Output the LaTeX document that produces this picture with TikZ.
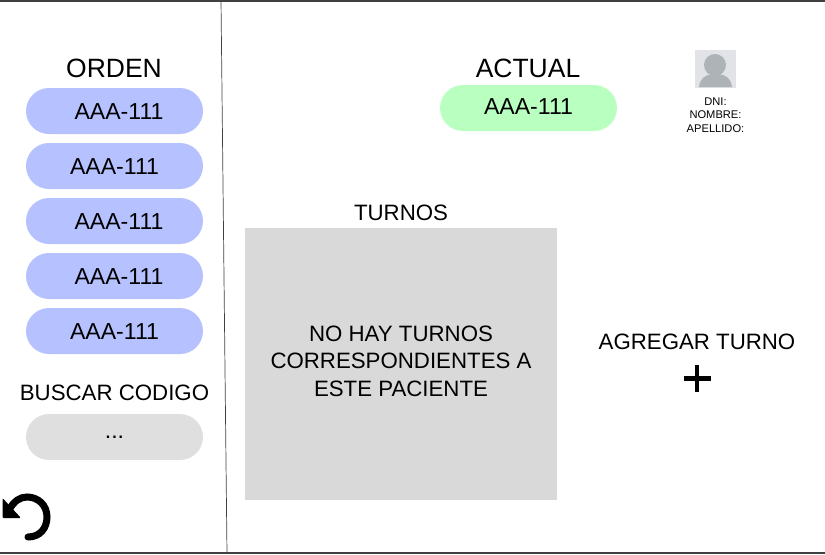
\documentclass[tikz,border=0pt]{standalone}
\usepackage{fontspec}
\setmainfont{Liberation Sans}
\begin{document}
\begin{tikzpicture}[x=0.03cm,y=-0.03cm]
	\tikzset{pastilla/.style={rounded corners=0.69cm, minimum width=5.31cm, minimum height=1.38cm, inner sep=0},
		azul/.style={pastilla, fill=azulclaro}, codigo/.style={font=\fontsize{19.7}{22}\selectfont},
		titulo/.style={font=\fontsize{22.6}{24}\selectfont}, texto/.style={font=\fontsize{19}{23.4}\selectfont, align=center},
		dato/.style={font=\fontsize{9.5}{11.5}\selectfont, align=center}, borde/.style={draw=black!75, line width=1pt}};
	\definecolor{azulclaro}{HTML}{B6C2FF}
	\definecolor{verdeclaro}{HTML}{B9FFC0}
	\definecolor{grisclaro}{HTML}{DFDFDF}
	\definecolor{griscaja}{HTML}{D9D9D9}
	\definecolor{grisfoto}{HTML}{E1E3E6}
	\definecolor{grispersona}{HTML}{AEB3B7}
	\useasboundingbox (0,0) rectangle (825,554);

	\coordinate (c1) at (0,1);
	\coordinate (c2) at (825,1);
	\coordinate (c3) at (0,553);
	\coordinate (c4) at (825,553);
	\coordinate (c5) at (221,0);
	\coordinate (c6) at (227,554);
	\draw[borde] (c1) -- (c2);
	\draw[borde] (c3) -- (c4);
	\draw[borde, line width=0.6pt] (c5) -- (c6);

	\node[titulo] (orden) at (114,68) {ORDEN};
	\node[azul] (p1) at (114.5,111) {};
	\node[azul] (p2) at (114.5,166) {};
	\node[azul] (p3) at (114.5,221) {};
	\node[azul] (p4) at (114.5,276) {};
	\node[azul] (p5) at (114.5,331) {};
	\node[codigo] (t1) at (119,112) {AAA-111};
	\node[codigo] (t2) at (114.5,167) {AAA-111};
	\node[codigo] (t3) at (119,222) {AAA-111};
	\node[codigo] (t4) at (119,277) {AAA-111};
	\node[codigo] (t5) at (114.5,332) {AAA-111};

	\node[texto] (buscar) at (114.5,393) {BUSCAR CODIGO};
	\node[pastilla, fill=grisclaro] (p6) at (114.5,437) {};
	\node[codigo] (t6) at (114.5,437) {...};

	\node[titulo] (actual) at (528,68) {ACTUAL};
	\node[pastilla, fill=verdeclaro] (p7) at (528.5,108) {};
	\node[codigo] (t7) at (528.5,107) {AAA-111};

	% foto del paciente
	\node[fill=grisfoto, minimum width=1.23cm, minimum height=1.14cm, inner sep=0] (foto) at (715.5,69) {};
	\fill[grispersona] (715,65) circle (11);
	\fill[grispersona] (699,87) .. controls (700,78) and (706,74) .. (715.5,74) .. controls (725,74) and (731,78) .. (732,87) -- cycle;
	\node[dato] (datos) at (715.5,115) {DNI:\\NOMBRE:\\APELLIDO:};

	\node[texto] (turnos) at (401,213) {TURNOS};
	\node[fill=griscaja, minimum width=9.36cm, minimum height=8.16cm, inner sep=0] (caja) at (401,364) {};
	\node[texto] (aviso) at (401,361) {NO HAY TURNOS\\CORRESPONDIENTES A\\ESTE PACIENTE};

	\node[texto] (agregar) at (697,342) {AGREGAR TURNO};
	\draw[line width=3.6pt, black] (683.5,378.5) -- (710.5,378.5);
	\draw[line width=3.6pt, black] (697,365) -- (697,392);

	% flecha de volver
	\draw[line width=6pt, line cap=round] (28,537) .. controls (40,537) and (47,528) .. (47,517) .. controls (47,505) and (38,497) .. (27,497) .. controls (20,497) and (14,501) .. (9,510);
	\fill[rounded corners=1pt] (2.5,498) -- (2.5,518) -- (21,518) -- cycle;
\end{tikzpicture}
\end{document}
